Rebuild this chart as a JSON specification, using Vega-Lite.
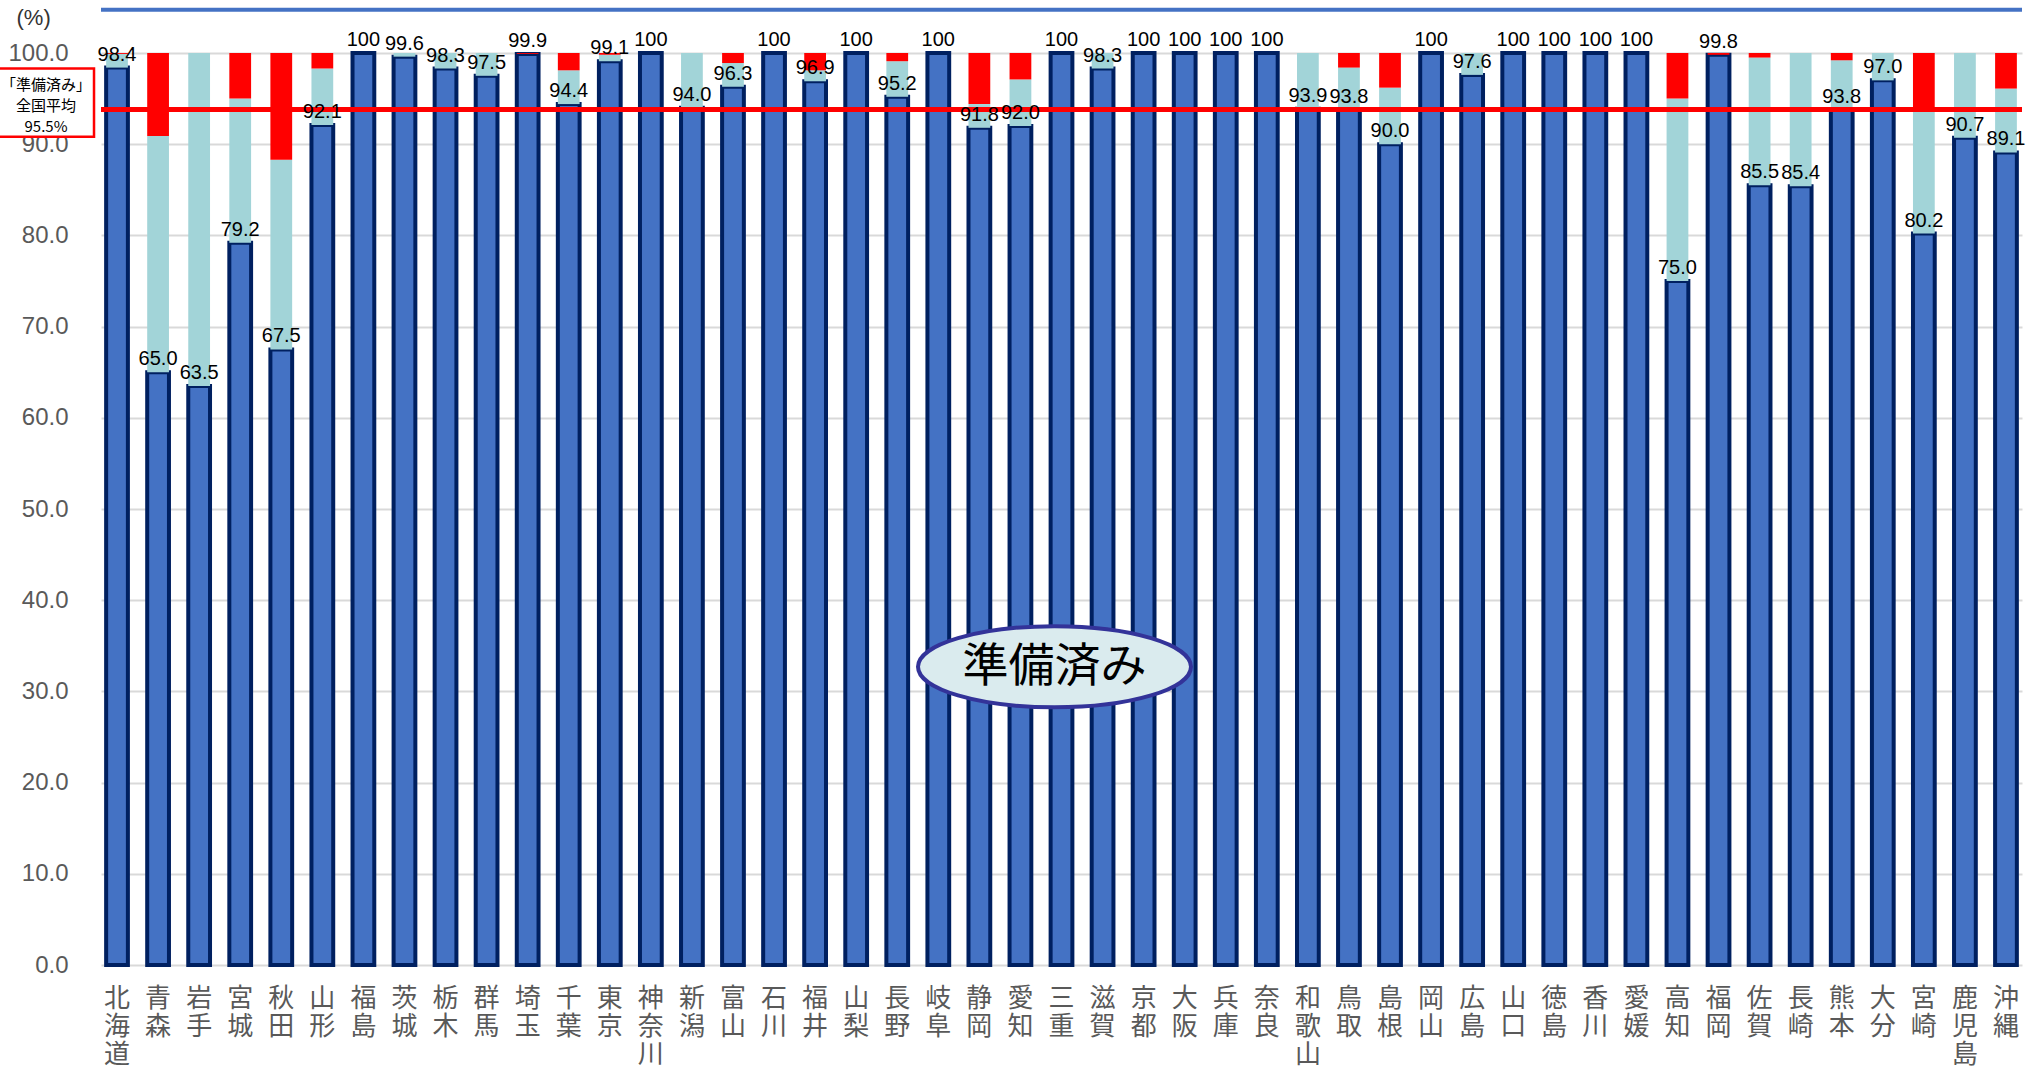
{
  "$schema": "https://vega.github.io/schema/vega-lite/v6.json",
  "autosize": {"type": "none"},
  "padding": {"left": 101, "top": 53, "right": 17, "bottom": 102},
  "width": 1921,
  "height": 912,
  "background": "white",
  "config": {"view": {"stroke": null}},
  "datasets": {
    "prefs": [
      {"pref": "北海道", "done": 98.4, "partial": 1.5, "remaining": 0.1},
      {"pref": "青森", "done": 65.0, "partial": 25.9, "remaining": 9.1},
      {"pref": "岩手", "done": 63.5, "partial": 36.5, "remaining": 0},
      {"pref": "宮城", "done": 79.2, "partial": 15.8, "remaining": 5.0},
      {"pref": "秋田", "done": 67.5, "partial": 20.8, "remaining": 11.7},
      {"pref": "山形", "done": 92.1, "partial": 6.2, "remaining": 1.7},
      {"pref": "福島", "done": 100, "partial": 0, "remaining": 0},
      {"pref": "茨城", "done": 99.6, "partial": 0.4, "remaining": 0},
      {"pref": "栃木", "done": 98.3, "partial": 1.7, "remaining": 0},
      {"pref": "群馬", "done": 97.5, "partial": 2.5, "remaining": 0},
      {"pref": "埼玉", "done": 99.9, "partial": 0, "remaining": 0.1},
      {"pref": "千葉", "done": 94.4, "partial": 3.7, "remaining": 1.9},
      {"pref": "東京", "done": 99.1, "partial": 0.7, "remaining": 0.2},
      {"pref": "神奈川", "done": 100, "partial": 0, "remaining": 0},
      {"pref": "新潟", "done": 94.0, "partial": 6.0, "remaining": 0},
      {"pref": "富山", "done": 96.3, "partial": 2.6, "remaining": 1.1},
      {"pref": "石川", "done": 100, "partial": 0, "remaining": 0},
      {"pref": "福井", "done": 96.9, "partial": 1.2, "remaining": 1.9},
      {"pref": "山梨", "done": 100, "partial": 0, "remaining": 0},
      {"pref": "長野", "done": 95.2, "partial": 3.9, "remaining": 0.9},
      {"pref": "岐阜", "done": 100, "partial": 0, "remaining": 0},
      {"pref": "静岡", "done": 91.8, "partial": 2.6, "remaining": 5.6},
      {"pref": "愛知", "done": 92.0, "partial": 5.1, "remaining": 2.9},
      {"pref": "三重", "done": 100, "partial": 0, "remaining": 0},
      {"pref": "滋賀", "done": 98.3, "partial": 1.7, "remaining": 0},
      {"pref": "京都", "done": 100, "partial": 0, "remaining": 0},
      {"pref": "大阪", "done": 100, "partial": 0, "remaining": 0},
      {"pref": "兵庫", "done": 100, "partial": 0, "remaining": 0},
      {"pref": "奈良", "done": 100, "partial": 0, "remaining": 0},
      {"pref": "和歌山", "done": 93.9, "partial": 6.1, "remaining": 0},
      {"pref": "鳥取", "done": 93.8, "partial": 4.6, "remaining": 1.6},
      {"pref": "島根", "done": 90.0, "partial": 6.2, "remaining": 3.8},
      {"pref": "岡山", "done": 100, "partial": 0, "remaining": 0},
      {"pref": "広島", "done": 97.6, "partial": 2.4, "remaining": 0},
      {"pref": "山口", "done": 100, "partial": 0, "remaining": 0},
      {"pref": "徳島", "done": 100, "partial": 0, "remaining": 0},
      {"pref": "香川", "done": 100, "partial": 0, "remaining": 0},
      {"pref": "愛媛", "done": 100, "partial": 0, "remaining": 0},
      {"pref": "高知", "done": 75.0, "partial": 20.0, "remaining": 5.0},
      {"pref": "福岡", "done": 99.8, "partial": 0, "remaining": 0.2},
      {"pref": "佐賀", "done": 85.5, "partial": 14.0, "remaining": 0.5},
      {"pref": "長崎", "done": 85.4, "partial": 14.6, "remaining": 0},
      {"pref": "熊本", "done": 93.8, "partial": 5.4, "remaining": 0.8},
      {"pref": "大分", "done": 97.0, "partial": 3.0, "remaining": 0},
      {"pref": "宮崎", "done": 80.2, "partial": 13.7, "remaining": 6.1},
      {"pref": "鹿児島", "done": 90.7, "partial": 9.3, "remaining": 0},
      {"pref": "沖縄", "done": 89.1, "partial": 7.0, "remaining": 3.9}
    ],
    "avg": [{"pref": "北海道", "label": ["「準備済み」", "全国平均", "95.5%"]}],
    "note": [{"pref": "三重", "label": "準備済み"}]
  },
  "layer": [
    {
      "data": {"name": "prefs"},
      "transform": [{"fold": ["done", "partial", "remaining"], "as": ["key", "value"]}],
      "mark": {"type": "bar"},
      "encoding": {
        "x": {
          "field": "pref", "type": "nominal", "sort": null,
          "scale": {
            "domain": ["北海道","青森","岩手","宮城","秋田","山形","福島","茨城","栃木","群馬","埼玉","千葉","東京","神奈川","新潟","富山","石川","福井","山梨","長野","岐阜","静岡","愛知","三重","滋賀","京都","大阪","兵庫","奈良","和歌山","鳥取","島根","岡山","広島","山口","徳島","香川","愛媛","高知","福岡","佐賀","長崎","熊本","大分","宮崎","鹿児島","沖縄"],
            "paddingInner": 0.47, "paddingOuter": 0.125
          },
          "axis": {
            "title": null, "labelAngle": 0, "labelExpr": "split(datum.label, '')",
            "labelFont": "Noto Sans CJK JP", "labelFontSize": 26, "labelLineHeight": 28,
            "labelColor": "#595959", "labelBaseline": "top", "labelPadding": 20,
            "ticks": false, "domain": false, "labelOverlap": false
          }
        },
        "y": {
          "field": "value", "type": "quantitative", "stack": "zero",
          "scale": {"domain": [0, 100], "nice": false},
          "axis": {
            "values": [0, 10, 20, 30, 40, 50, 60, 70, 80, 90, 100], "format": ".1f",
            "title": "(%)", "titleAngle": 0, "titleAlign": "left", "titleBaseline": "middle",
            "titleX": -85, "titleY": -36, "titleFont": "Liberation Sans", "titleFontSize": 22,
            "titleFontWeight": "normal", "titleColor": "#333333",
            "labelFont": "Liberation Sans", "labelFontSize": 24, "labelColor": "#595959",
            "labelPadding": 33, "ticks": false, "domain": false,
            "gridColor": "#D9D9D9", "gridWidth": 2
          }
        },
        "color": {
          "field": "key", "type": "nominal",
          "scale": {"domain": ["done", "partial", "remaining"], "range": ["#4472C4", "#A2D4D8", "#FF0000"]},
          "legend": null
        },
        "order": {"field": "key", "sort": "ascending"},
        "stroke": {"condition": {"test": "datum.key === 'done'", "value": "#002060"}, "value": "transparent"},
        "strokeWidth": {"condition": {"test": "datum.key === 'done'", "value": 4}, "value": 0}
      }
    },
    {
      "data": {"values": [{}]},
      "mark": {"type": "rule", "stroke": "#4472C4", "strokeWidth": 4},
      "encoding": {"y": {"datum": 104.75}}
    },
    {
      "data": {"values": [{}]},
      "mark": {"type": "rule", "stroke": "#FF0000", "strokeWidth": 5},
      "encoding": {"y": {"datum": 93.8}}
    },
    {
      "data": {"name": "prefs"},
      "mark": {"type": "text", "baseline": "bottom", "dy": -3, "font": "Liberation Sans", "fontSize": 20, "color": "#000000"},
      "encoding": {
        "x": {"field": "pref", "type": "nominal", "sort": null},
        "y": {"field": "done", "type": "quantitative"},
        "text": {"condition": {"test": "datum.done === 100", "value": "100"}, "field": "done", "format": ".1f"}
      }
    },
    {
      "data": {"name": "avg"},
      "mark": {"type": "point", "shape": "M-1,-0.71L1,-0.71L1,0.71L-1,0.71Z", "size": 9216, "filled": true, "fill": "white", "fillOpacity": 1, "stroke": "#FF0000", "strokeWidth": 2.5, "opacity": 1, "xOffset": -71},
      "encoding": {
        "x": {"field": "pref", "type": "nominal", "sort": null},
        "y": {"datum": 94.55}
      }
    },
    {
      "data": {"name": "avg"},
      "mark": {"type": "text", "font": "Noto Sans CJK JP", "fontSize": 15, "lineHeight": 21, "baseline": "middle", "align": "center", "color": "#000000", "xOffset": -71, "dy": -18},
      "encoding": {
        "x": {"field": "pref", "type": "nominal", "sort": null},
        "y": {"datum": 94.55},
        "text": {"field": "label"}
      }
    },
    {
      "data": {"name": "note"},
      "mark": {"type": "point", "shape": "M-1,0C-1,-0.164,-0.5523,-0.297,0,-0.297C0.5523,-0.297,1,-0.164,1,0C1,0.164,0.5523,0.297,0,0.297C-0.5523,0.297,-1,0.164,-1,0Z", "size": 74529, "filled": true, "fill": "#DAEBEE", "fillOpacity": 1, "stroke": "#333399", "strokeWidth": 4, "opacity": 1, "xOffset": -7},
      "encoding": {
        "x": {"field": "pref", "type": "nominal", "sort": null},
        "y": {"datum": 32.7}
      }
    },
    {
      "data": {"name": "note"},
      "mark": {"type": "text", "font": "Noto Sans CJK JP", "fontSize": 46, "baseline": "middle", "align": "center", "color": "#000000", "xOffset": -7},
      "encoding": {
        "x": {"field": "pref", "type": "nominal", "sort": null},
        "y": {"datum": 32.7},
        "text": {"field": "label"}
      }
    }
  ]
}
